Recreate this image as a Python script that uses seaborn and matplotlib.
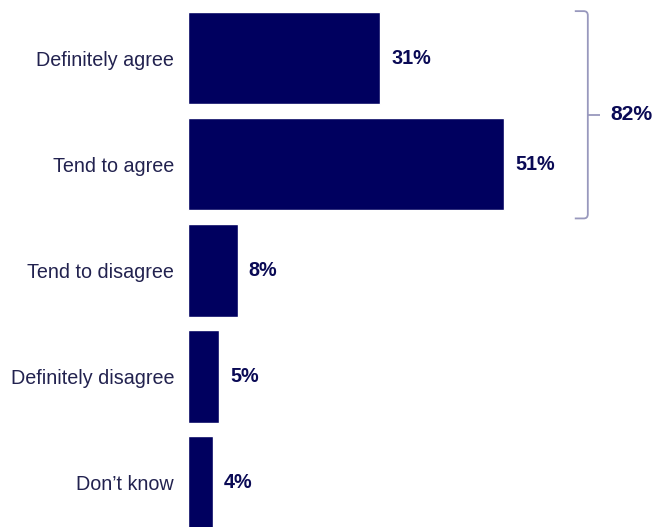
import matplotlib
matplotlib.use("Agg")
import matplotlib.pyplot as plt
from matplotlib.path import Path
from matplotlib.patches import PathPatch
import seaborn as sns
import pandas as pd

# Survey responses
categories = ["Definitely agree", "Tend to agree", "Tend to disagree",
              "Definitely disagree", "Don\u2019t know"]
shares = [31, 51, 8, 5, 4]
net_agree_label = "82%"

BAR_COLOR = "#00005f"
LABEL_COLOR = "#22224f"
VALUE_COLOR = "#0a0a55"
BRACKET_COLOR = "#9898bd"

sns.set_theme(style="white")
plt.rcParams["font.family"] = ["Liberation Sans", "DejaVu Sans"]

df = pd.DataFrame({"category": categories, "share": shares})

fig = plt.figure(figsize=(6.56, 5.27), dpi=100)
ax = fig.add_axes([188 / 656, 0.0, 468 / 656, 1.0])

bar_width = 0.87
sns.barplot(data=df, x="share", y="category", orient="h", color=BAR_COLOR,
            saturation=1, width=bar_width, ax=ax)

# The last bar runs off the bottom edge of the figure
ax.set_xlim(0, 75.5)
ax.set_ylim(4.42, -0.55)
ax.set_xlabel("")
ax.set_ylabel("")
ax.set_xticks([])
sns.despine(ax=ax, left=True, bottom=True)
ax.tick_params(axis="y", length=0, pad=10, labelsize=14.2, labelcolor=LABEL_COLOR)

for container in ax.containers:
    ax.bar_label(container, labels=[f"{v}%" for v in shares], padding=8.0,
                 fontsize=14.2, fontweight="bold", color=VALUE_COLOR)

# Bracket grouping the two "agree" bars
half = bar_width / 2
y_top = 0 - half - 0.01
y_bot = 1 + half + 0.075
y_mid = (y_top + y_bot) / 2
bx = 64.5
hook = 2.1
r_x, r_y = 0.65, 0.04
verts = [
    (bx - hook, y_top), (bx - r_x, y_top),
    (bx, y_top), (bx, y_top + r_y),
    (bx, y_bot - r_y),
    (bx, y_bot), (bx - r_x, y_bot),
    (bx - hook, y_bot),
]
codes = [Path.MOVETO, Path.LINETO, Path.CURVE3, Path.CURVE3, Path.LINETO,
         Path.CURVE3, Path.CURVE3, Path.LINETO]
ax.add_patch(PathPatch(Path(verts, codes), fill=False, edgecolor=BRACKET_COLOR,
                       linewidth=1.3, clip_on=False))
ax.plot([bx, bx + 1.9], [y_mid, y_mid], color=BRACKET_COLOR, linewidth=1.3,
        clip_on=False, solid_capstyle="butt")
ax.text(bx + 3.6, y_mid, net_agree_label, ha="left", va="center",
        fontsize=15.2, fontweight="bold", color=VALUE_COLOR)

fig.savefig("out.png", dpi=100)
